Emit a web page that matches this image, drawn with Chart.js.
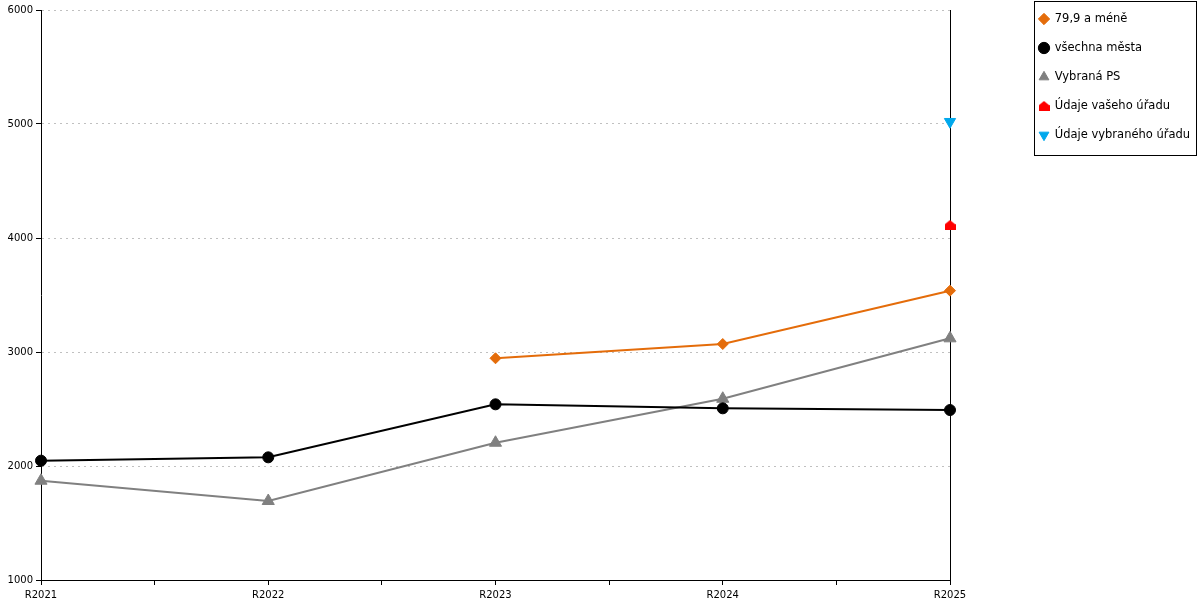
<!DOCTYPE html>
<html>
<head>
<meta charset="utf-8">
<script src="https://cdn.jsdelivr.net/npm/chart.js@4.4.1/dist/chart.umd.min.js"></script>
<style>
  html, body { margin: 0; padding: 0; background: #fff; }
  #wrap { width: 1200px; height: 600px; }
</style>
</head>
<body>
<div id="wrap"><canvas id="c" width="1200" height="600"></canvas></div>
<script>
const categories = ['R2021', 'R2022', 'R2023', 'R2024', 'R2025'];
const seriesNames = ['79,9 a méně', 'všechna města', 'Vybraná PS', 'Údaje vašeho úřadu', 'Údaje vybraného úřadu'];
const valuesSmall = [null, null, 2945, 3070, 3538];
const valuesAll = [2047, 2076, 2541, 2506, 2491];
const valuesPS = [1871, 1693, 2204, 2590, 3120];
const valuesYours = [null, null, null, null, 4114];
const valuesSelected = [null, null, null, null, 5020];
const yTicks = [1000, 2000, 3000, 4000, 5000, 6000];

Chart.defaults.font.family = "'DejaVu Sans', 'Verdana', sans-serif";
Chart.defaults.color = '#000';

function toPoints(arr) {
  return categories.map((c, i) => ({ x: i, y: arr[i] }));
}

// house-shaped marker
const house = document.createElement('canvas');
house.width = 11; house.height = 10;
(function () {
  const g = house.getContext('2d');
  g.fillStyle = '#FF0000';
  g.beginPath();
  g.moveTo(5.5, 0);
  g.lineTo(11, 4.5);
  g.lineTo(11, 10);
  g.lineTo(0, 10);
  g.lineTo(0, 4.5);
  g.closePath();
  g.fill();
})();

const legendPlace = {
  id: 'legendPlace',
  afterLayout(chart) {
    const lg = chart.legend;
    if (!lg) return;
    const pad = lg.options.labels.padding;
    lg.left = 1039 - pad;
    lg.top = 19 - 5.75 - pad;
    lg.right = lg.left + lg.width;
    lg.bottom = lg.top + lg.height;
  },
  afterDraw(chart) {
    const lg = chart.legend;
    if (!lg || !lg.legendHitBoxes) return;
    const pad = lg.options.labels.padding;
    const fs = lg.options.labels.font.size;
    const n = lg.legendItems.length;
    const x0 = lg.left + pad - 5;
    let maxW = 0;
    lg.legendHitBoxes.forEach(h => { maxW = Math.max(maxW, h.width); });
    const x1 = lg.left + pad + maxW + 6.25;
    const firstC = lg.top + pad + fs / 2;
    const lastC = firstC + (n - 1) * (fs + pad);
    const y0 = firstC - 18;
    const y1 = lastC + 20;
    const ctx = chart.ctx;
    ctx.save();
    ctx.strokeStyle = '#000';
    ctx.lineWidth = 1;
    ctx.strokeRect(Math.round(x0) + 0.5, Math.round(y0) + 0.5, Math.round(x1 - x0), Math.round(y1 - y0));
    ctx.restore();
  }
};

new Chart(document.getElementById('c'), {
  type: 'line',
  data: {
    datasets: [
      {
        label: seriesNames[0], data: toPoints(valuesSmall),
        borderColor: '#E46C0A', backgroundColor: '#E46C0A',
        borderWidth: 2, pointStyle: 'rectRot', pointRadius: 5.5, pointBorderWidth: 1,
        tension: 0, clip: false
      },
      {
        label: seriesNames[1], data: toPoints(valuesAll),
        borderColor: '#000000', backgroundColor: '#000000',
        borderWidth: 2, pointStyle: 'circle', pointRadius: 5.5, pointBorderWidth: 1,
        tension: 0, clip: false
      },
      {
        label: seriesNames[2], data: toPoints(valuesPS),
        borderColor: '#808080', backgroundColor: '#808080',
        borderWidth: 2, pointStyle: 'triangle', pointRadius: 7, pointBorderWidth: 1,
        tension: 0, clip: false
      },
      {
        label: seriesNames[3], data: toPoints(valuesYours),
        borderColor: '#FF0000', backgroundColor: '#FF0000',
        showLine: false, pointStyle: house, pointRadius: 6, pointBorderWidth: 0, clip: false
      },
      {
        label: seriesNames[4], data: toPoints(valuesSelected),
        borderColor: '#00A8EC', backgroundColor: '#00A8EC',
        showLine: false, pointStyle: 'triangle', pointRotation: 180, pointRadius: 6.5, pointBorderWidth: 1, clip: false
      }
    ]
  },
  options: {
    responsive: false,
    animation: false,
    layout: { padding: { top: 10, left: 0, right: 0, bottom: 0 } },
    plugins: {
      legend: {
        position: 'chartArea',
        align: 'start',
        labels: {
          usePointStyle: true,
          boxWidth: 10,
          boxHeight: 8,
          padding: 17.5,
          font: { size: 11.5 },
          color: '#000'
        }
      },
      tooltip: { enabled: false }
    },
    scales: {
      x: {
        type: 'linear',
        min: 0,
        max: categories.length - 1,
        ticks: {
          stepSize: 0.5,
          autoSkip: false,
          maxRotation: 0,
          padding: 4,
          font: { size: 10 },
          color: '#000',
          callback: v => Number.isInteger(v) ? categories[v] : ''
        },
        grid: { drawOnChartArea: false, tickColor: '#000', tickLength: 5, lineWidth: 1 },
        border: { display: true, color: '#000', width: 1 },
        afterFit: s => { s.height = 20; }
      },
      y: {
        type: 'linear',
        position: 'left',
        min: yTicks[0],
        max: yTicks[yTicks.length - 1],
        afterBuildTicks: s => { s.ticks = yTicks.map(v => ({ value: v })); },
        ticks: { padding: 3, font: { size: 10 }, color: '#000', callback: v => String(v) },
        grid: {
          color: c => (c.tick && c.tick.value === yTicks[0]) ? 'rgba(0,0,0,0)' : '#C0C0C0',
          tickColor: '#000', tickLength: 5, lineWidth: 1
        },
        border: { display: true, color: '#000', width: 1, dash: [2, 4] },
        afterFit: s => { s.width = 41; }
      },
      y2: {
        type: 'linear',
        position: 'right',
        z: 1,
        ticks: { display: false },
        grid: { drawOnChartArea: false, drawTicks: false },
        border: { display: true, color: '#000', width: 1 },
        afterFit: s => { s.width = 250; }
      }
    }
  },
  plugins: [legendPlace]
});
</script>
</body>
</html>
